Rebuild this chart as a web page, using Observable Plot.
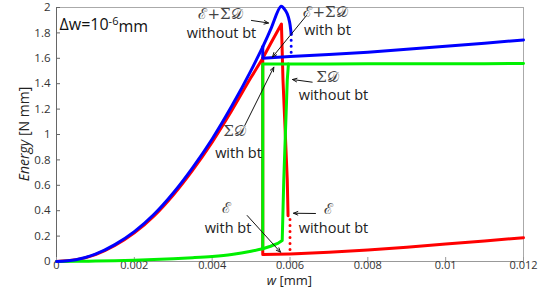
<!DOCTYPE html>
<html><head><meta charset="utf-8">
<script src="https://cdn.jsdelivr.net/npm/d3@7"></script>
<script src="https://cdn.jsdelivr.net/npm/@observablehq/plot@0.6"></script>
<style>
body{margin:0;background:#fff;}
#chart svg{font-family:"Open Sans",sans-serif;}
</style>
</head><body><div id="chart"></div>
<script>
// ---- data (w in mm, energy in N mm) ----
// shared loading branch
const wLoad       = [0,0.0005,0.001,0.0015,0.002,0.0025,0.003,0.0035,0.004,0.0045,0.005,0.0053];
const totalLoad   = [0,0.014,0.058,0.133,0.235,0.37,0.54,0.74,0.965,1.222,1.505,1.69];
const elasticLoad = [0,0.013,0.054,0.126,0.225,0.357,0.524,0.72,0.94,1.187,1.45,1.60];
const dissLoad    = [0,0.001,0.003,0.006,0.01,0.015,0.022,0.03,0.04,0.055,0.08,0.10];
// without backtracking (continuing from w = 0.0053)
const wTotalNoBt    = [0.0053,0.0055,0.00577,0.00585,0.00593,0.00599,0.00602,0.00603];
const totalNoBt     = [1.69,1.825,2.01,1.99,1.95,1.885,1.82,1.79];
const wElasticNoBt  = [0.0053,0.0055,0.00578,0.00582,0.00593,0.00595];
const elasticNoBt   = [1.60,1.715,1.87,1.43,0.64,0.36];
const wDissNoBt     = [0.0053,0.0055,0.0057,0.0058,0.00584,0.00593,0.00596];
const dissNoBt      = [0.10,0.12,0.145,0.165,0.64,1.43,1.556];
// dotted jumps (without bt)
const wTotalJump    = [0.00603,0.00603];
const totalJump     = [1.79,1.615];
const wElasticJump  = [0.006,0.006];
const elasticJump   = [0.33,0.07];
// with backtracking: jump at w = 0.0053
const wBt           = [0.0053,0.0053,0.006];
const totalBt       = [1.69,1.60,1.615];
const elasticBt     = [1.60,0.055,0.06];
const dissBt        = [0.10,1.555,1.556];
// common post-peak branch
const wPost         = [0.006,0.007,0.008,0.009,0.01,0.011,0.012];
const totalPost     = [1.615,1.63,1.648,1.671,1.695,1.719,1.745];
const elasticPost   = [0.06,0.072,0.09,0.113,0.138,0.162,0.187];
const dissPost      = [1.556,1.556,1.557,1.557,1.558,1.558,1.559];

const xTicks = [0,0.002,0.004,0.006,0.008,0.01,0.012];
const yTicks = [0,0.2,0.4,0.6,0.8,1,1.2,1.4,1.6,1.8,2];

// annotation texts and anchor points (data coordinates)
const labelText = ["ℰ+Σ𝒟","without bt","ℰ+Σ𝒟","with bt","Σ𝒟","without bt","Σ𝒟","with bt","ℰ","with bt","ℰ","without bt"];
const labelW    = [0.004214,0.00424,0.006912,0.006963,0.006963,0.007118,0.004574,0.004677,0.004368,0.004407,0.006989,0.007118];
const labelV    = [1.945,1.797,1.967,1.817,1.455,1.31,1.027,0.855,0.42,0.262,0.415,0.258];
const arrowW1 = [0.00501,0.006424,0.00657,0.004838,0.0049,0.006655];
const arrowV1 = [1.898,1.937,1.412,1.071,0.362,0.378];
const arrowW2 = [0.005447,0.00555,0.006064,0.005584,0.005756,0.00609];
const arrowV2 = [1.878,1.610,1.433,1.530,0.073,0.380];

// ---- build tables ----
function rows(ws, vs, key){ return ws.map((w,i)=>({w, v:vs[i], key})); }
const loadRed   = rows(wLoad, elasticLoad, "E");
const loadGreen = rows(wLoad, dissLoad, "D");
const loadBlue  = rows(wLoad, totalLoad, "T");
const red = [
  ...rows([...wBt,...wPost.slice(1)],[...elasticBt,...elasticPost.slice(1)],"Ebt"),
  ...rows(wElasticNoBt, elasticNoBt, "Enobt")
];
const green = [
  ...rows([...wBt,...wPost.slice(1)],[...dissBt,...dissPost.slice(1)],"Dbt"),
  ...rows(wDissNoBt, dissNoBt, "Dnobt")
];
const blueBt   = rows([...wBt,...wPost.slice(1)],[...totalBt,...totalPost.slice(1)],"Tbt");
const blueNoBt = rows(wTotalNoBt, totalNoBt, "Tnobt");
const redDots  = rows(wElasticJump, elasticJump, "Ejump");
const blueDots = rows(wTotalJump, totalJump, "Tjump");
const labels = labelText.map((t,i)=>({t, w:labelW[i], v:labelV[i], script: /[ℰ𝒟Σ]/.test(t)}));
const arrows = arrowW1.map((w,i)=>({w1:w, v1:arrowV1[i], w2:arrowW2[i], v2:arrowV2[i]}));

const fmt = d => String(+d.toFixed(4));
const RED="#ff0000", GREEN="#00f000", BLUE="#0000ff", SW=3;

const chart = Plot.plot({
  width: 539, height: 288,
  marginLeft: 56, marginRight: 16, marginTop: 7, marginBottom: 27,
  x: {domain:[0,0.012], ticks: xTicks, tickFormat: fmt, label: null},
  y: {domain:[0,2], ticks: yTicks, tickFormat: fmt, label: null},
  style: {fontFamily:"Open Sans, sans-serif", fontSize:"11.5px", color:"#333", background:"#fff"},
  marks: [
    Plot.frame({stroke:"#aaa"}),
    Plot.ruleX([0],{stroke:"#666"}),
    Plot.ruleY([0],{stroke:"#999"}),
    Plot.axisX({ticks: xTicks, tickFormat: fmt, tickSize:-4, tickPadding:4, stroke:"#999", fill:"#333", fontSize:11}),
    Plot.axisY({ticks: yTicks, tickFormat: fmt, tickSize:-4, tickPadding:10, stroke:"#666", fill:"#333", fontSize:11.5}),
    Plot.line(loadRed,{x:"w",y:"v",stroke:RED,strokeWidth:SW,curve:"monotone-x"}),
    Plot.line(red,{x:"w",y:"v",z:"key",stroke:RED,strokeWidth:SW}),
    Plot.line(redDots,{x:"w",y:"v",z:"key",stroke:RED,strokeWidth:SW,strokeDasharray:"0,6",strokeLinecap:"round"}),
    Plot.line(loadGreen,{x:"w",y:"v",stroke:GREEN,strokeWidth:SW,curve:"monotone-x"}),
    Plot.line(green,{x:"w",y:"v",z:"key",stroke:GREEN,strokeWidth:SW}),
    Plot.line(loadBlue,{x:"w",y:"v",stroke:BLUE,strokeWidth:SW,curve:"monotone-x"}),
    Plot.line(blueBt,{x:"w",y:"v",z:"key",stroke:BLUE,strokeWidth:SW}),
    Plot.line(blueNoBt,{x:"w",y:"v",z:"key",stroke:BLUE,strokeWidth:SW,curve:"catmull-rom"}),
    Plot.line(blueDots,{x:"w",y:"v",z:"key",stroke:BLUE,strokeWidth:SW,strokeDasharray:"0,6",strokeLinecap:"round"}),
    Plot.arrow(arrows,{x1:"w1",y1:"v1",x2:"w2",y2:"v2",stroke:"#111",strokeWidth:1,headLength:7,headAngle:45,bend:false}),
    Plot.text(labels.filter(d=>!d.script),{x:"w",y:"v",text:"t",fontSize:14.5,fill:"#222"}),
    Plot.text(labels.filter(d=>d.script),{x:"w",y:"v",text:"t",fontSize:15,fill:"#444",fontFamily:"DejaVu Serif, serif"}),
    Plot.text(["Δw=10-6mm"],{frameAnchor:"top-left",dx:3,dy:11,fontSize:16,fill:"#111",textAnchor:"start"})
  ]
});

const svg = d3.select(chart);
// superscript exponent
svg.selectAll("text").filter(function(){return this.textContent==="Δw=10-6mm";}).each(function(){
  const t=d3.select(this); t.text(null);
  t.append("tspan").text("Δw=10");
  t.append("tspan").attr("dy","-0.45em").attr("font-size","11px").text("-6");
  t.append("tspan").attr("dy","0.45em").text("mm");
});
// axis labels with italic parts
const xl = svg.append("text").attr("x",289.5).attr("y",284.5).attr("text-anchor","middle")
  .attr("font-size","13px").attr("fill","#222");
xl.append("tspan").attr("font-style","italic").text("w");
xl.append("tspan").text(" [mm]");
const yl = svg.append("text").attr("transform","translate(29,134) rotate(-90)").attr("text-anchor","middle")
  .attr("font-size","14px").attr("fill","#222");
yl.append("tspan").attr("font-style","italic").text("Energy");
yl.append("tspan").text(" [N mm]");

document.getElementById("chart").appendChild(chart);
</script>
</body></html>
